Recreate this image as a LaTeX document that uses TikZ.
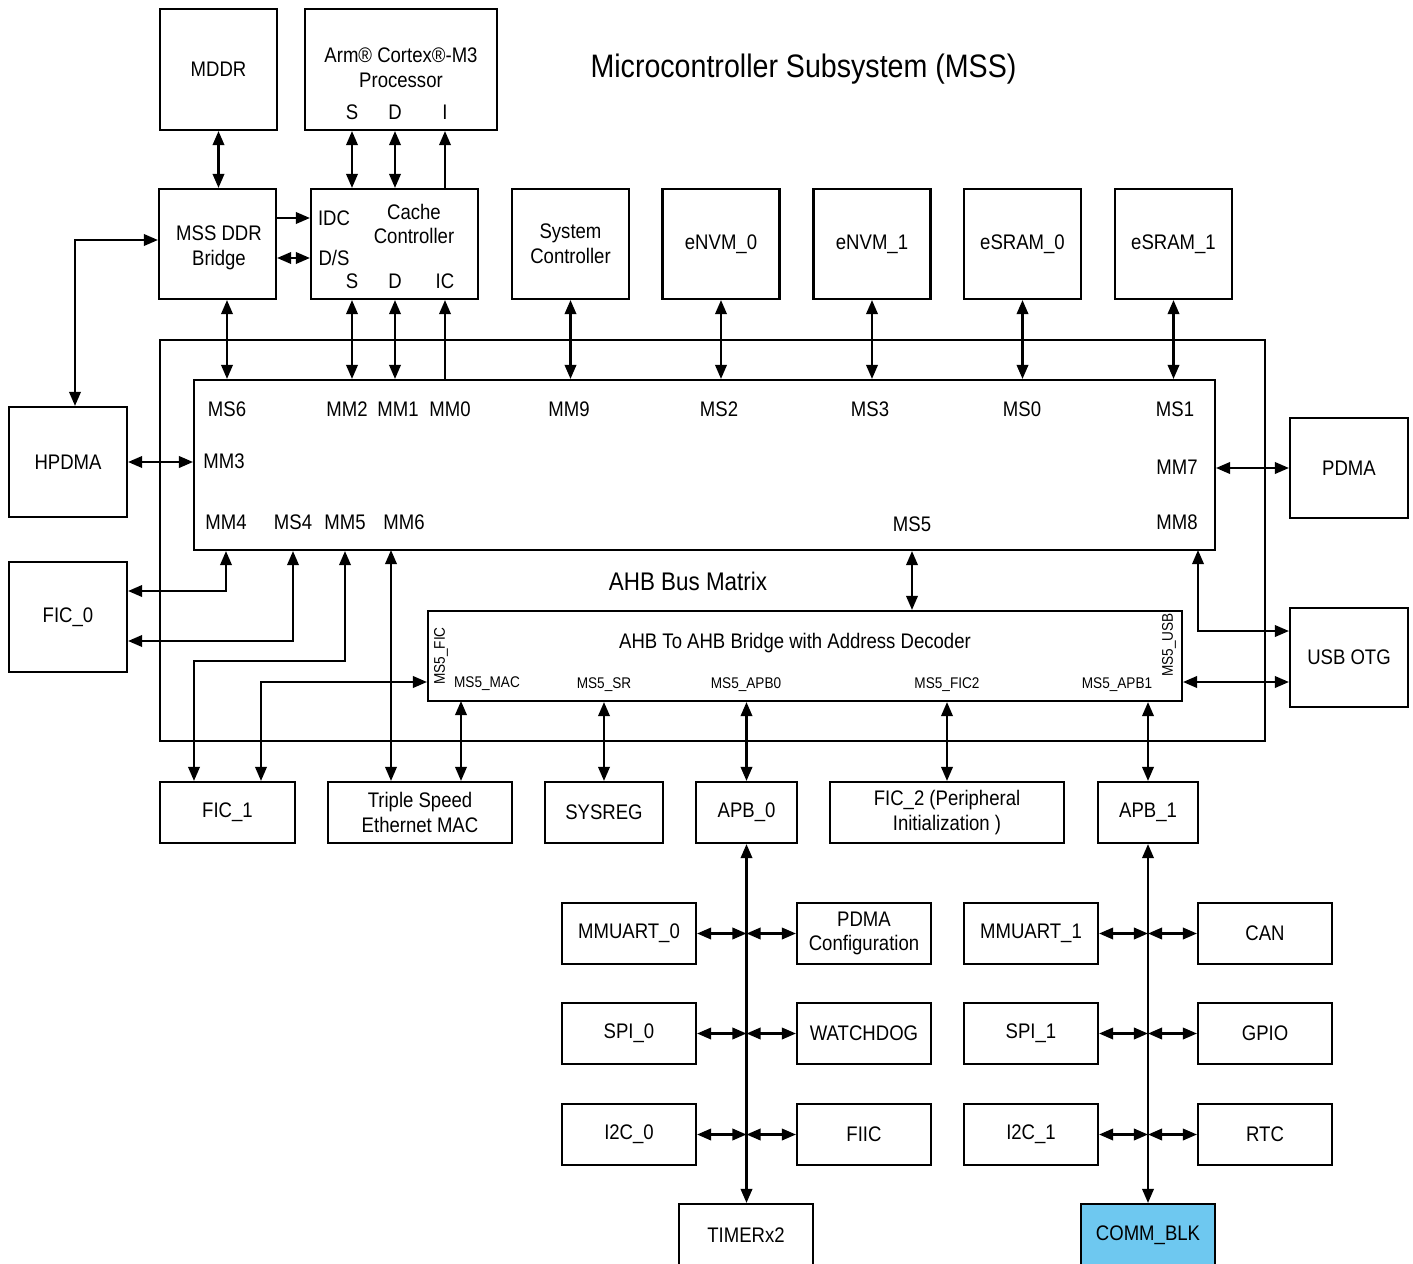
\documentclass[tikz,border=0pt]{standalone}
\usepackage{fontspec}
\setmainfont{Liberation Sans}[FakeStretch=0.88]
\usetikzlibrary{arrows.meta}

\definecolor{commblue}{RGB}{110,200,240}

\begin{document}
\begin{tikzpicture}[x=0.02cm, y=-0.02cm,
    blk/.style={draw, line width=1.2pt, inner sep=0pt, align=center, font=\fontsize{12}{14}\selectfont},
    lbl/.style={inner sep=0pt, align=center, font=\fontsize{12}{14}\selectfont},
    smalltxt/.style={inner sep=0pt, font=\fontsize{8.8}{10}\selectfont},
    bus/.style={line width=1.3pt},
    dbl/.style={bus, {Triangle[length=8pt,width=6.5pt]}-{Triangle[length=8pt,width=6.5pt]}},
    sgl/.style={bus, -{Triangle[length=8pt,width=6.5pt]}},
  ]
    \clip (0,0) rectangle (1413,1264);

    % processor side
    \node[blk, minimum width=2.34cm, minimum height=2.42cm] (mddr) at (218.5,69.5) {MDDR};
    \node[blk, minimum width=3.84cm, minimum height=2.42cm] (arm) at (401,69.5) {};
    \node[lbl] (armtxt) at (401,68) {Arm® Cortex®-M3\\Processor};
    \node[lbl] (armS) at (352,112) {S};
    \node[lbl] (armD) at (395,112) {D};
    \node[lbl] (armI) at (445,112) {I};
    \node[font=\fontsize{18.5}{20}\selectfont] (title) at (803.5,69) {Microcontroller Subsystem (MSS)};

    \node[blk, minimum width=2.34cm, minimum height=2.2cm] (ddrb) at (217.5,244) {};
    \node[lbl] (ddrbtxt) at (219,248) {MSS DDR\\Bridge};
    \node[blk, minimum width=3.34cm, minimum height=2.2cm] (cache) at (394.5,244) {};
    \node[lbl] (cachetxt) at (414,224) {Cache\\Controller};
    \node[lbl] (idc) at (334,218) {IDC};
    \node[lbl] (ds) at (334,258) {D/S};
    \node[lbl] (cacheS) at (352,281) {S};
    \node[lbl] (cacheD) at (395,281) {D};
    \node[lbl] (cacheIC) at (445,281) {IC};

    % slaves on top of the matrix
    \foreach \n/\x/\t in {sysctl/570.5/System\\Controller, envm0/721/eNVM\_0, envm1/872/eNVM\_1,
                          esram0/1022.5/eSRAM\_0, esram1/1173.5/eSRAM\_1}
        \node[blk, minimum width=2.34cm, minimum height=2.2cm] (\n) at (\x,244) {\t};

    % MSS and the bus matrix
    \node[blk, minimum width=22.1cm, minimum height=8.02cm] (mss) at (712.5,540.5) {};
    \node[blk, minimum width=20.42cm, minimum height=3.4cm] (matrix) at (704.5,465) {};
    \node[lbl, font=\fontsize{14.5}{16}\selectfont] (mtxt) at (688,581) {AHB Bus Matrix};

    \foreach \n/\x/\t in {ms6/227/MS6, mm2/347/MM2, mm1/398/MM1, mm0/450/MM0, mm9/569/MM9,
                          ms2/719/MS2, ms3/870/MS3, ms0/1022/MS0, ms1/1175/MS1}
        \node[lbl] (\n) at (\x,409) {\t};
    \node[lbl] (mm3) at (224,461) {MM3};
    \node[lbl] (mm7) at (1177,467) {MM7};
    \foreach \n/\x/\t in {mm4/226/MM4, ms4/293/MS4, mm5/345/MM5, mm6/404/MM6, mm8/1177/MM8}
        \node[lbl] (\n) at (\x,522) {\t};
    \node[lbl] (ms5) at (912,524) {MS5};
    \coordinate (mm6port) at (391,550);
    \coordinate (mm8port) at (1198,550);

    % AHB to AHB bridge
    \node[blk, minimum width=15.08cm, minimum height=1.8cm] (ahb) at (805,656) {};
    \node[lbl] (ahbtxt) at (795,643) {AHB To AHB Bridge with Address Decoder};
    \node[smalltxt, rotate=90] (ms5fic) at (441,656) {MS5\_FIC};
    \node[smalltxt, rotate=90] (ms5usb) at (1169,645) {MS5\_USB};
    \node[smalltxt] (ms5mac) at (487,684) {MS5\_MAC};
    \node[smalltxt] (ms5sr) at (604,685) {MS5\_SR};
    \node[smalltxt] (ms5apb0) at (746,685) {MS5\_APB0};
    \node[smalltxt] (ms5fic2) at (947,685) {MS5\_FIC2};
    \node[smalltxt] (ms5apb1) at (1117,685) {MS5\_APB1};

    % masters and fabric interfaces at the sides
    \node[blk, minimum width=2.36cm, minimum height=2.2cm] (hpdma) at (68,462) {HPDMA};
    \node[blk, minimum width=2.36cm, minimum height=2.2cm] (fic0) at (68,617) {FIC\_0};
    \node[blk, minimum width=2.36cm, minimum height=2cm] (pdma) at (1349,468) {PDMA};
    \node[blk, minimum width=2.36cm, minimum height=1.98cm] (usb) at (1349,657.5) {USB OTG};

    % bottom row
    \node[blk, minimum width=2.7cm, minimum height=1.22cm] (fic1) at (227.5,812.5) {FIC\_1};
    \node[blk, minimum width=3.68cm, minimum height=1.22cm] (mac) at (420,812.5) {Triple Speed\\Ethernet MAC};
    \node[blk, minimum width=2.36cm, minimum height=1.22cm] (sysreg) at (604,812.5) {SYSREG};
    \node[blk, minimum width=2.02cm, minimum height=1.22cm] (apb0) at (746.5,812.5) {APB\_0};
    \node[blk, minimum width=4.68cm, minimum height=1.22cm] (fic2) at (947,812.5) {FIC\_2 (Peripheral\\Initialization )};
    \node[blk, minimum width=2cm, minimum height=1.22cm] (apb1) at (1148,812.5) {APB\_1};

    % peripherals on the two APB buses
    \foreach \n/\x/\y/\t in {mmuart0/629/933.5/MMUART\_0, pdmacfg/864/933.5/PDMA\\Configuration,
                             spi0/629/1033.5/SPI\_0, wdog/864/1033.5/WATCHDOG,
                             i2c0/629/1134.5/I2C\_0, fiic/864/1134.5/FIIC,
                             mmuart1/1031/933.5/MMUART\_1, can/1265/933.5/CAN,
                             spi1/1031/1033.5/SPI\_1, gpio/1265/1033.5/GPIO,
                             i2c1/1031/1134.5/I2C\_1, rtc/1265/1134.5/RTC}
        \node[blk, minimum width=2.68cm, minimum height=1.22cm] (\n) at (\x,\y) {\t};
    \node[blk, minimum width=2.68cm, minimum height=1.24cm] (timer) at (746,1235) {TIMERx2};
    \node[blk, fill=commblue, minimum width=2.68cm, minimum height=1.24cm] (comm) at (1148,1235) {COMM\_BLK};

    % connections above the matrix
    \draw[dbl] (mddr.south) -- (mddr.south |- ddrb.north);
    \draw[dbl] (armS |- arm.south) -- (armS |- cache.north);
    \draw[dbl] (armD |- arm.south) -- (armD |- cache.north);
    \draw[sgl] (armI |- cache.north) -- (armI |- arm.south);
    \draw[sgl] (idc -| ddrb.east) -- (idc -| cache.west);
    \draw[dbl] (ds -| ddrb.east) -- (ds -| cache.west);
    \coordinate (hpturn) at (75,240);
    \draw[dbl] (hpturn -| ddrb.west) -- (hpturn) -- (hpturn |- hpdma.north);

    \draw[dbl] (ms6 |- ddrb.south) -- (ms6 |- matrix.north);
    \draw[dbl] (cacheS |- cache.south) -- (cacheS |- matrix.north);
    \draw[dbl] (cacheD |- cache.south) -- (cacheD |- matrix.north);
    \draw[sgl] (cacheIC |- matrix.north) -- (cacheIC |- cache.south);
    \foreach \n in {sysctl, envm0, envm1, esram0, esram1}
        \draw[dbl] (\n.south) -- (\n.south |- matrix.north);

    % connections at the sides
    \draw[dbl] (hpdma.east) -- (hpdma.east -| matrix.west);
    \draw[dbl] (pdma.west -| matrix.east) -- (pdma.west);
    \draw[dbl] (mm4 |- matrix.south) |- ([yshift=0.52cm]fic0.east);
    \draw[dbl] (ms4 |- matrix.south) |- ([yshift=-0.48cm]fic0.east);
    \coordinate (mm5turn) at (194,661);
    \draw[dbl] (mm5 |- matrix.south) |- (mm5turn) -- (mm5turn |- fic1.north);
    \coordinate (ficturn) at (261,682);
    \draw[dbl] (ficturn |- fic1.north) -- (ficturn) -- (ficturn -| ahb.west);
    \draw[dbl] (mm6port) -- (mm6port |- mac.north);
    \draw[dbl] (mm8port) |- ([yshift=0.53cm]usb.west);
    \draw[dbl] (ahb.east |- ficturn) -- (usb.west |- ficturn);
    \draw[dbl] (ms5 |- matrix.south) -- (ms5 |- ahb.north);

    % bridge to the bottom row
    \coordinate (macport) at (461,701);
    \draw[dbl] (macport) -- (macport |- mac.north);
    \foreach \n in {sysreg, apb0, fic2, apb1}
        \draw[dbl] (\n.north |- ahb.south) -- (\n.north);

    % APB buses
    \draw[dbl] (apb0.south) -- (apb0.south |- timer.north);
    \draw[dbl] (apb1.south) -- (apb1.south |- comm.north);
    \foreach \l/\r in {mmuart0/pdmacfg, spi0/wdog, i2c0/fiic} {
        \draw[dbl] (\l.east) -- (\l.east -| apb0.south);
        \draw[dbl] (\r.west -| apb0.south) -- (\r.west);
    }
    \foreach \l/\r in {mmuart1/can, spi1/gpio, i2c1/rtc} {
        \draw[dbl] (\l.east) -- (\l.east -| apb1.south);
        \draw[dbl] (\r.west -| apb1.south) -- (\r.west);
    }
\end{tikzpicture}
\end{document}
